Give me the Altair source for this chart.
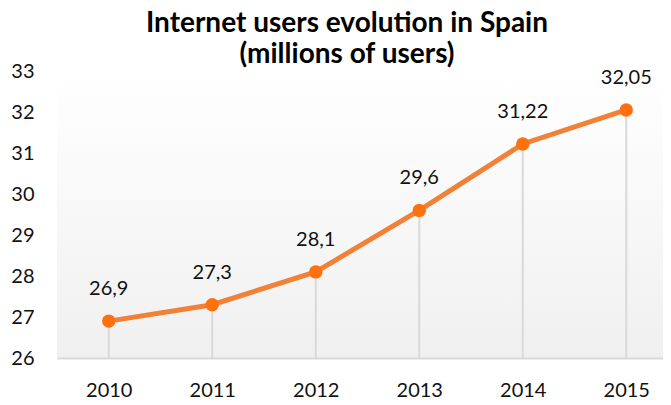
import altair as alt
import pandas as pd

years = [2010, 2011, 2012, 2013, 2014, 2015]
users = [26.9, 27.3, 28.1, 29.6, 31.22, 32.05]
labels = ["26,9", "27,3", "28,1", "29,6", "31,22", "32,05"]
y_ticks = [26, 27, 28, 29, 30, 31, 32, 33]

df = pd.DataFrame({"year": years, "users": users, "label": labels})

W, H = 606, 287
FONT = "Lato"
TXT = "#111111"

xs = alt.Scale(domain=[2009.5, 2015.355], nice=False, zero=False)
ys = alt.Scale(domain=[26, 33], nice=False, zero=False)

x_enc = alt.X("year:Q", scale=xs, axis=alt.Axis(
    values=years, format="d", title=None, ticks=False, grid=False,
    domainColor="#d9d9d9", domainWidth=2, labelPadding=22, labelFontSize=20,
    labelColor=TXT, labelFont=FONT, zindex=1))
y_enc = alt.Y("users:Q", scale=ys, axis=alt.Axis(
    values=y_ticks, title=None, ticks=False, grid=False, domain=False,
    labelPadding=23, labelFontSize=20, labelColor=TXT, labelFont=FONT))

bg = alt.Chart(pd.DataFrame({"k": [0]})).mark_rect(
    color=alt.LinearGradient(
        gradient="linear", x1=0, x2=0, y1=0, y2=1,
        stops=[alt.GradientStop(color="#ffffff", offset=0),
               alt.GradientStop(color="#f0f0f0", offset=1)])
).encode(x=alt.value(0), x2=alt.value(W), y=alt.value(0), y2=alt.value(H))

base = alt.Chart(df)

drops = base.mark_rule(color="#d9d9d9", strokeWidth=2).encode(
    x=x_enc, y=y_enc, y2=alt.value(H))

line = base.mark_line(color="#F08136", strokeWidth=5).encode(x=x_enc, y=y_enc)

pts = base.mark_circle(color="#FF700F", opacity=1, size=180).encode(x=x_enc, y=y_enc)

txt = base.mark_text(font=FONT, fontSize=20, color=TXT, baseline="alphabetic", dy=-26).encode(
    x=x_enc, y=y_enc, text="label:N")

chart = alt.layer(bg, drops, line, pts, txt).properties(
    width=W, height=H,
    title=alt.TitleParams(
        text=["Internet users evolution in Spain", "(millions of users)"],
        font=FONT, fontSize=28, fontWeight="bold", color="#000000",
        anchor="middle", frame="group", dx=-13, dy=12, offset=4, lineHeight=31),
    autosize=alt.AutoSizeParams(type="none"),
    padding={"left": 49, "top": 63, "right": 0, "bottom": 42},
).configure_view(stroke=None)

chart.save("out.html", embed_options={"renderer": "svg", "actions": False})
